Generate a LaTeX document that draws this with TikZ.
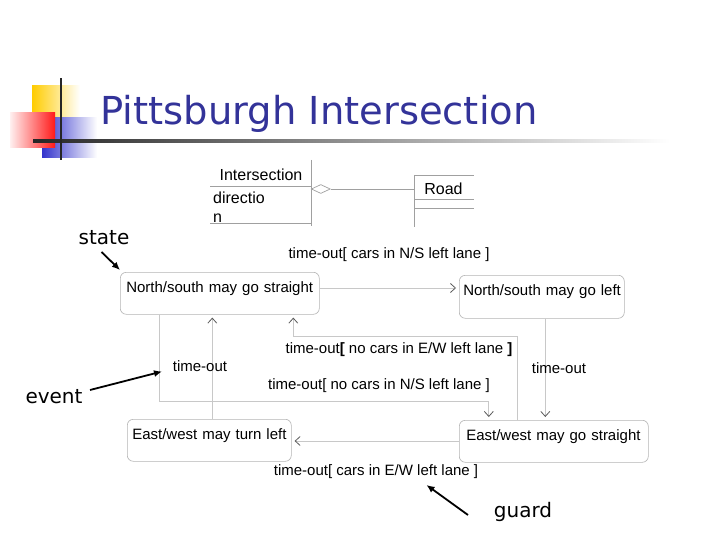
\documentclass[tikz,border=0pt]{standalone}
\usepackage{fontspec}
\setmainfont{Liberation Sans}
\newfontfamily\tah{DejaVu Sans}
\usetikzlibrary{arrows.meta,shapes.geometric,calc}
\definecolor{titleblue}{RGB}{51,51,153}
\definecolor{yelc}{RGB}{255,204,0}
\definecolor{bluec}{RGB}{51,51,204}
\definecolor{stbord}{RGB}{180,180,180}
\definecolor{connc}{RGB}{200,200,200}
\definecolor{tipc}{RGB}{90,90,90}
\definecolor{umlc}{RGB}{160,160,160}
\begin{document}
\begin{tikzpicture}[x=1pt,y=-1pt,
  stbox/.style={draw=stbord, rounded corners=6pt, line width=0.6pt, anchor=north west,
    inner xsep=6pt, inner ysep=0pt, text height=20pt, align=left,
    font=\fontsize{15}{18}\selectfont},
  lbl/.style={font=\fontsize{15}{18}\selectfont, inner sep=0pt},
  conn/.style={draw=connc, line width=0.7pt, shorten >=3pt,
    -{Straight Barb[length=5pt,width=9pt,color=tipc,line width=0.8pt]}},
  ann/.style={draw=black, line width=1.8pt, -{Latex[length=8pt,width=7pt]}},
  annlbl/.style={font=\tah\fontsize{20}{24}\selectfont, inner sep=0pt},
  uml/.style={draw=umlc, line width=0.7pt},
  umltxt/.style={font=\fontsize{16}{19}\selectfont, inner sep=0pt}
]
\useasboundingbox (0,0) rectangle (720,540);
\fill[white] (0,0) rectangle (720,540);

% title decoration
\shade[left color=yelc, middle color=yelc, right color=white] (32,86) rectangle (80,134);
\shade[left color=bluec, middle color=bluec, right color=white] (42,118) rectangle (97,158);
\shade[left color=red!6, right color=red!90] (10,113) rectangle (55,148);
\shade[left color=black!85, right color=white] (33,139.6) rectangle (670,142.4);
\fill[black!85] (60,78) rectangle (62.2,160);

% title
\node[font=\tah\fontsize{38.5}{44}\selectfont, text=titleblue, anchor=base, inner sep=0pt]
  (title) at (319,125) {Pittsburgh Intersection};

% UML fragment
\draw[uml] (311,160) -- (311,226);
\draw[uml] (210,186) -- (311,186);
\draw[uml] (210,223) -- (311,223);
\node[umltxt, anchor=base] (intx) at (261,181) {Intersection};
\node[umltxt, anchor=base west] (dir1) at (213,204) {directio};
\node[umltxt, anchor=base west] (dir2) at (213,222.5) {n};
\node[diamond, draw=umlc, line width=0.7pt, minimum width=19pt, minimum height=9pt,
  inner sep=0pt, fill=white] (diam) at (320.8,189) {};
\draw[uml] (414,175) -- (414,227);
\draw[uml] (414,175) -- (474,175);
\draw[uml] (414,199) -- (474,199);
\draw[uml] (414,208) -- (474,208);
\node[umltxt] (road) at (443.5,189) {Road};
\coordinate (roadw) at (414,189);
\draw[uml] (diam.east) -- (roadw);

% states
\node[stbox, text width=187pt, text depth=22pt] (nss) at (120,272) {\rlap{North/south may go straight}};
\node[stbox, text width=157pt, text depth=23pt, inner xsep=4pt] (nsl) at (459,275) {\rlap{North/south may go left}};
\node[stbox, text width=154pt, text depth=22pt, inner xsep=5pt] (ewl) at (127,419) {\rlap{East/west may turn left}};
\node[stbox, text width=175pt, text depth=22pt, inner xsep=7pt] (ews) at (459,420) {\rlap{East/west may go straight}};

% transitions
\draw[conn] ([yshift=-16pt]nss.north east) coordinate (t1) -- (t1 -| nsl.west);
\draw[conn] ([xshift=3.5pt]nsl.south) -- ([xshift=-8.5pt]ews.north);
\draw[conn] ([yshift=-21pt]ews.north west) coordinate (t3) -- (t3 -| ewl.east);
\draw[conn] ([xshift=3pt]ewl.north) -- ([xshift=-7.5pt]nss.south);
\draw[conn] ([xshift=-36.5pt]ews.north) |- ([xshift=73.5pt,yshift=-21.5pt]nss.south) -- ([xshift=73.5pt]nss.south);
\draw[conn] ([xshift=-60.5pt]nss.south) |- ([xshift=-65pt,yshift=18.5pt]ews.north) -- ([xshift=-65pt]ews.north);

% transition labels
\node[lbl] (l1) at (389,255) {time-out[ cars in N/S left lane ]};
\node[lbl] (l2) at (399,350) {time-out\textbf{[} no cars in E/W left lane \textbf{]}};
\node[lbl] (l3) at (379,386) {time-out[ no cars in N/S left lane ]};
\node[lbl] (l4) at (200,366) {time-out};
\node[lbl] (l5) at (559,368) {time-out};
\node[lbl] (l6) at (376,472) {time-out[ cars in E/W left lane ]};

% annotations
\node[annlbl] (state) at (104,238) {state};
\node[annlbl] (event) at (54,397) {event};
\node[annlbl] (guard) at (523,512) {guard};
\coordinate (sA) at (101.5,252);
\coordinate (sB) at (120,270);
\coordinate (eA) at (90,390);
\coordinate (eB) at (162,371.5);
\coordinate (gA) at (468,515);
\coordinate (gB) at (426.5,485);
\draw[ann] (sA) -- (sB);
\draw[ann] (eA) -- (eB);
\draw[ann] (gA) -- (gB);
\end{tikzpicture}
\end{document}
